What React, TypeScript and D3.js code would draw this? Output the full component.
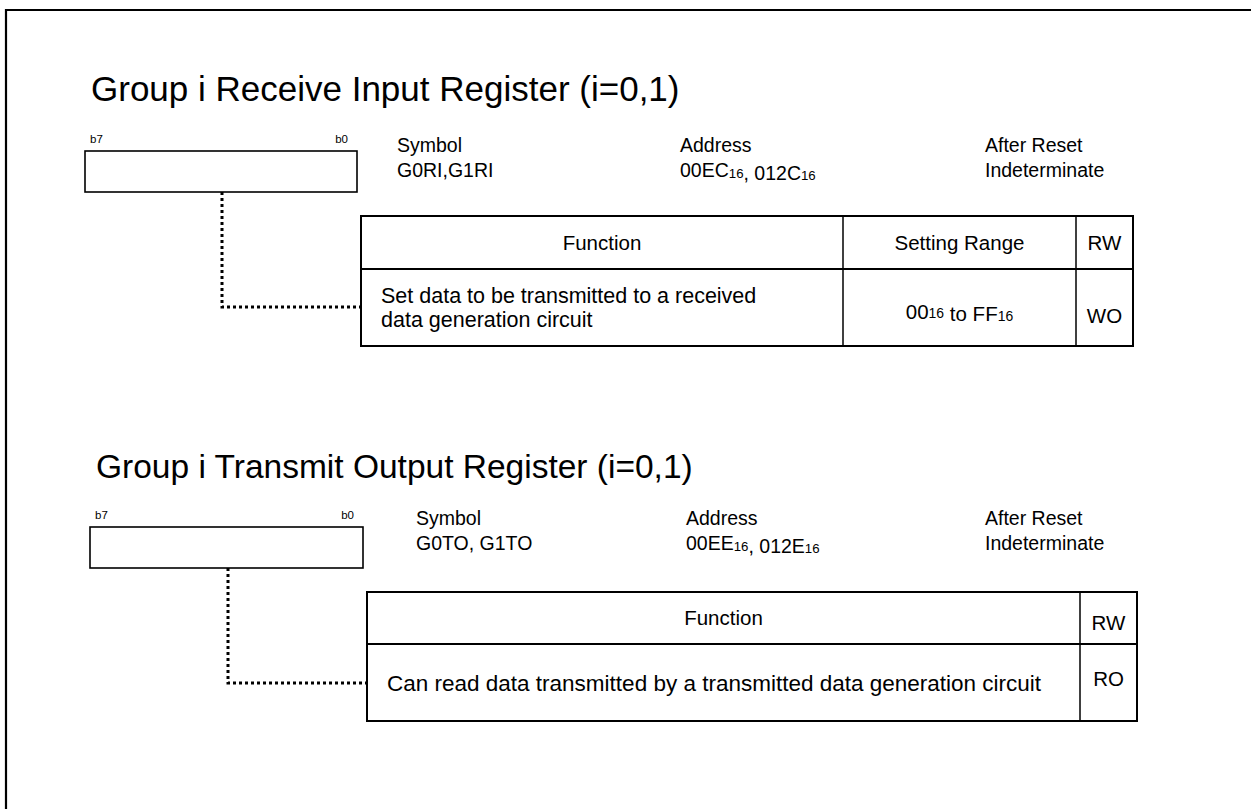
import { useEffect, useRef } from "react"
import * as d3 from "d3"

// register diagram content
const titles = ["Group i Receive Input Register (i=0,1)", "Group i Transmit Output Register (i=0,1)"]
const bitLabels = ["b7", "b0"]
const infoHeaders = ["Symbol", "Address", "After Reset"]
const symbols = ["G0RI,G1RI", "G0TO, G1TO"]
// [text, subscript] pieces
const addresses: [string, string][][] = [
  [["00EC", "16"], [", 012C", "16"]],
  [["00EE", "16"], [", 012E", "16"]],
]
const afterReset = ["Indeterminate", "Indeterminate"]
const tableHeaders = [
  ["Function", "Setting Range", "RW"],
  ["Function", "RW"],
]
const functionLines = [
  ["Set data to be transmitted to a received", "data generation circuit"],
  ["Can read data transmitted by a transmitted data generation circuit"],
]
const settingRanges: ([string, string][] | null)[] = [
  [["00", "16"], [" to FF", "16"]],
  null,
]
const rwValues = ["WO", "RO"]

const W = 1251
const H = 809
const FONT = "'Liberation Sans', Arial, Helvetica, sans-serif"

// layout of each block
const layout = [
  {
    title: { x: 91, y: 101, size: 35 },
    box: { x: 85, y: 151, w: 272, h: 41 },
    infoX: [397, 680, 985],
    infoY: [151, 176],
    infoSize: 19.5,
    dotX: 222,
    dotY: 307,
    table: { x: 361, y: 216, w: 772, h: 130, head: 53, cols: [843, 1076] },
    headSize: 20.5,
    bodySize: 21.5,
    headDy: [0, 0, 0],
    bodyDy: { fn: [-12, 12], range: 3, rw: 8 },
  },
  {
    title: { x: 96, y: 478, size: 33.5 },
    box: { x: 90, y: 527, w: 273, h: 41 },
    infoX: [416, 686, 985],
    infoY: [524, 549],
    infoSize: 19.5,
    dotX: 228,
    dotY: 683,
    table: { x: 367, y: 592, w: 770, h: 129, head: 52, cols: [1080] },
    headSize: 20.5,
    bodySize: 22.5,
    headDy: [-1, 4],
    bodyDy: { fn: [1], range: 0, rw: -4 },
  },
]

type G = d3.Selection<SVGGElement, unknown, null, undefined>

function subText(g: G, x: number, y: number, parts: [string, string][], size: number, anchor = "start") {
  const t = g.append("text")
    .attr("x", x).attr("y", y)
    .attr("font-size", size)
    .attr("text-anchor", anchor)
    .attr("dominant-baseline", "central")
  parts.forEach(([main, sub]) => {
    t.append("tspan").text(main)
    if (sub) {
      t.append("tspan").attr("font-size", size * 0.68).attr("dy", 2.5).text(sub)
      t.append("tspan").attr("font-size", size).attr("dy", -2.5).text("")
    }
  })
  return t
}

export default function App() {
  const svgRef = useRef<SVGSVGElement>(null)

  useEffect(() => {
    if (!svgRef.current) return
    const svg = d3.select(svgRef.current)
    svg.selectAll("*").remove()

    svg.append("rect").attr("width", W).attr("height", H).attr("fill", "#fff")

    // outer frame (only left and top visible)
    svg.append("path")
      .attr("d", `M6,${H + 5} L6,10 L${W + 5},10`)
      .attr("fill", "none").attr("stroke", "#000").attr("stroke-width", 2.2)

    layout.forEach((L, i) => {
      const g = svg.append("g").attr("font-family", FONT).attr("fill", "#000")

      g.append("text")
        .attr("x", L.title.x).attr("y", L.title.y)
        .attr("font-size", L.title.size)
        .text(titles[i])

      // bit box
      g.append("text").attr("x", L.box.x + 5).attr("y", L.box.y - 8)
        .attr("font-size", 11.5).text(bitLabels[0])
      g.append("text").attr("x", L.box.x + L.box.w - 9).attr("y", L.box.y - 8)
        .attr("font-size", 11.5).attr("text-anchor", "end").text(bitLabels[1])
      g.append("rect")
        .attr("x", L.box.x).attr("y", L.box.y)
        .attr("width", L.box.w).attr("height", L.box.h)
        .attr("fill", "#fff").attr("stroke", "#000").attr("stroke-width", 1.6)

      // info
      const infoVals = [symbols[i], null, afterReset[i]]
      infoHeaders.forEach((h, k) => {
        g.append("text").attr("x", L.infoX[k]).attr("y", L.infoY[0] - 6)
          .attr("font-size", L.infoSize).attr("dominant-baseline", "central").text(h)
        if (infoVals[k] !== null) {
          g.append("text").attr("x", L.infoX[k]).attr("y", L.infoY[1] - 6)
            .attr("font-size", L.infoSize).attr("dominant-baseline", "central").text(infoVals[k] as string)
        } else {
          subText(g, L.infoX[k], L.infoY[1] - 6, addresses[i], L.infoSize)
        }
      })

      // dotted leader
      const line = d3.line()
      g.append("path")
        .attr("d", line([[L.dotX, L.box.y + L.box.h], [L.dotX, L.dotY], [L.table.x, L.dotY]]))
        .attr("fill", "none").attr("stroke", "#000")
        .attr("stroke-width", 3).attr("stroke-dasharray", "3,3")

      // table
      const T = L.table
      const edges = [T.x, ...T.cols, T.x + T.w]
      g.append("rect")
        .attr("x", T.x).attr("y", T.y).attr("width", T.w).attr("height", T.h)
        .attr("fill", "#fff").attr("stroke", "#000").attr("stroke-width", 2)
      g.append("line")
        .attr("x1", T.x).attr("x2", T.x + T.w)
        .attr("y1", T.y + T.head).attr("y2", T.y + T.head)
        .attr("stroke", "#000").attr("stroke-width", 2)
      T.cols.forEach(cx => {
        g.append("line")
          .attr("x1", cx).attr("x2", cx).attr("y1", T.y).attr("y2", T.y + T.h)
          .attr("stroke", "#000").attr("stroke-width", 1.5)
      })
      const headY = T.y + T.head / 2
      const bodyY = T.y + T.head + (T.h - T.head) / 2
      tableHeaders[i].forEach((h, k) => {
        g.append("text")
          .attr("x", (edges[k] + edges[k + 1]) / 2)
          .attr("y", headY + (L.headDy[k] || 0))
          .attr("font-size", L.headSize).attr("text-anchor", "middle")
          .attr("dominant-baseline", "central").text(h)
      })
      functionLines[i].forEach((t, k) => {
        g.append("text")
          .attr("x", T.x + 20).attr("y", bodyY + L.bodyDy.fn[k])
          .attr("font-size", L.bodySize).attr("dominant-baseline", "central").text(t)
      })
      const sr = settingRanges[i]
      if (sr) {
        subText(g, (edges[1] + edges[2]) / 2, bodyY + L.bodyDy.range, sr, L.headSize, "middle")
      }
      const last = edges.length - 2
      g.append("text")
        .attr("x", (edges[last] + edges[last + 1]) / 2)
        .attr("y", bodyY + L.bodyDy.rw)
        .attr("font-size", L.headSize).attr("text-anchor", "middle")
        .attr("dominant-baseline", "central").text(rwValues[i])
    })
  }, [])

  return (
    <svg
      ref={svgRef}
      width={W}
      height={H}
      style={{ position: "absolute", left: 0, top: 0, display: "block" }}
    />
  )
}
